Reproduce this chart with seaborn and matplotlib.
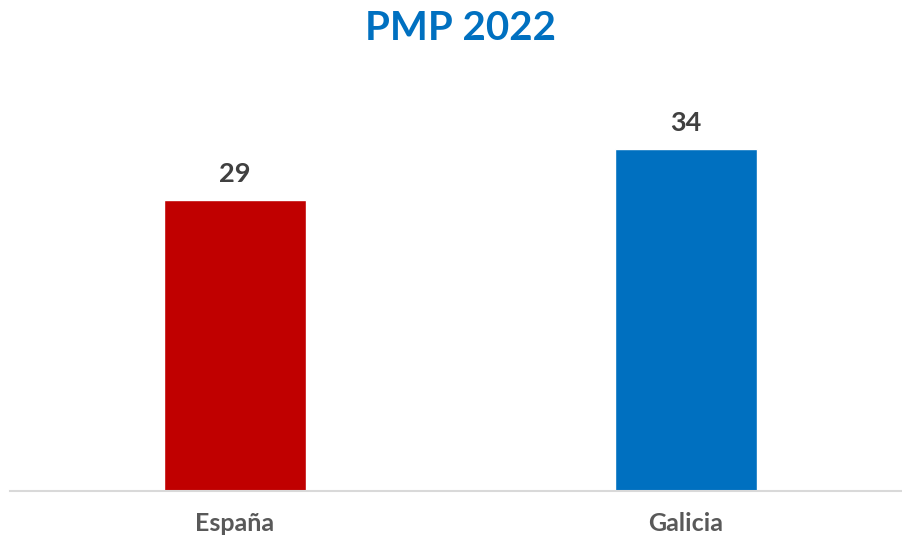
import pandas as pd
import matplotlib.pyplot as plt
import seaborn as sns

regions = ['España', 'Galicia']
pmp = [29, 34]
colors = ['#C00000', '#0070C0']

df = pd.DataFrame({'region': regions, 'pmp': pmp})

sns.set_style('white')
plt.rcParams['font.family'] = ['Lato', 'DejaVu Sans']

fig = plt.figure(figsize=(9.03, 5.38), dpi=100)
ax = fig.add_axes([9.5 / 903, 47 / 538, 902 / 903, 431 / 538])

sns.barplot(data=df, x='region', y='pmp', hue='region', palette=colors,
            width=0.315, legend=False, ax=ax, saturation=1)

for i, v in enumerate(pmp):
    ax.text(i, v + 1.4, str(v), ha='center', va='bottom', fontsize=19.5,
            fontweight='bold', color='#404040')

ax.set_xlim(-0.5, 1.5)
ax.set_ylim(0, 42.9)
ax.set_xlabel('')
ax.set_ylabel('')
ax.set_yticks([])
ax.tick_params(axis='x', length=0, pad=15, labelsize=18, labelcolor='#595959')
for lbl in ax.get_xticklabels():
    lbl.set_fontweight('bold')
for s in ['top', 'right', 'left']:
    ax.spines[s].set_visible(False)
ax.spines['bottom'].set_color('#D9D9D9')
ax.spines['bottom'].set_linewidth(1.5)

fig.text(0.51, 1 - 29 / 538, 'PMP 2022', ha='center', va='center',
         fontsize=29, fontweight='bold', color='#0070C0')

fig.savefig('out.png', dpi=100)
